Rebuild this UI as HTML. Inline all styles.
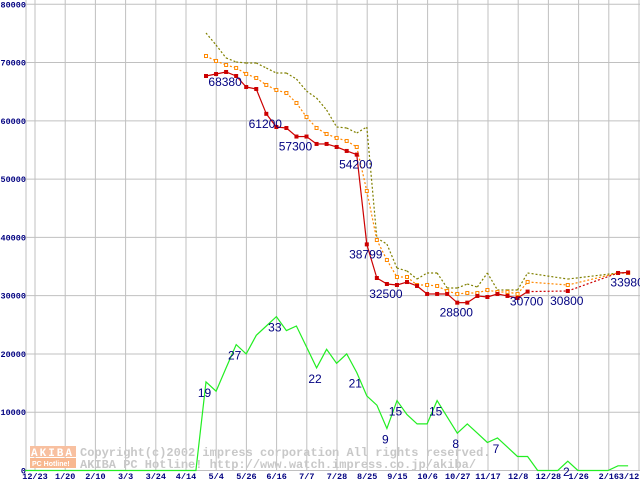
<!DOCTYPE html>
<html><head><meta charset="utf-8"><style>
html,body{margin:0;padding:0;background:#fff;}
svg{display:block;}
</style></head><body>
<svg id="chart" width="640" height="480" xmlns="http://www.w3.org/2000/svg" font-family="Liberation Sans, sans-serif">
<g id="grid"></g>
<g id="watermark">
  <rect x="30" y="446" width="46" height="11" fill="#f8c0a0"/>
  <rect x="30" y="458" width="46" height="10" fill="#f8b890"/>
  <text x="31" y="456" font-size="11" font-weight="bold" fill="#fff" font-family="Liberation Mono, monospace" letter-spacing="2">AKIBA</text>
  <text x="32" y="466" font-size="7" font-weight="bold" fill="#fff">PC Hotline!</text>
  <text x="80" y="456" font-size="12" font-weight="bold" fill="#c8c8c8" font-family="Liberation Mono, monospace">Copyright(c)2002 impress corporation All rights reserved.</text>
  <text x="80" y="468" font-size="12" font-weight="bold" fill="#c8c8c8" font-family="Liberation Mono, monospace">AKIBA PC Hotline!  http://www.watch.impress.co.jp/akiba/</text>
</g>
<g id="axes"></g>
<g id="series"></g>
<g id="labels"></g>
</svg>
<script>
const xTickLabels = ["12/23","1/20","2/10","3/3","3/24","4/14","5/4","5/26","6/16","7/7","7/28","8/25","9/15","10/6","10/27","11/17","12/8","12/28","1/26","2/16","3/12"];
const yTicks = [0,10000,20000,30000,40000,50000,60000,70000,80000];
const minPrice = [67690,68030,68380,67690,65800,65460,61200,58940,58770,57300,57300,56030,56030,55510,54830,54200,38799,33030,32000,31830,32340,31660,30290,30290,30290,28800,28800,29950,29770,30290,29950,29600,30700,null,null,null,30800,null,null,null,null,33890,33980];
const avgPrice = [71120,70270,69580,69070,68040,67350,66150,65290,64770,63060,60650,58770,57740,57060,56540,55510,47960,39550,36120,33200,33200,31830,31830,31660,30800,30290,30460,30460,30970,30630,30630,30290,32350,null,null,null,31830,null,null,null,null,33890,33890];
const maxPrice = [75070,73010,70780,70100,69920,69920,69060,68200,68200,67170,65110,63910,61860,58940,58770,57910,58940,39890,38850,34740,34230,32850,33890,33890,31310,31310,32000,31480,33890,30970,30970,30970,33890,null,null,null,32850,null,null,null,null,33890,33890];
const shopCount = [0,0,0,0,0,0,0,0,0,0,0,0,0,0,0,0,0,0,19,17,22,27,25,29,31,33,30,31,26.5,22,26,23,25,21,16,14,9,15,12,10,10,15,11.5,8,10,8,6,7,5,3,3,0,0,0,2,0,0,0,0,1,1];
const countOffset = 18;
const priceLabelIdx = [2,6,9,15,16,18,25,32,36,42];
const priceLabelText = ["68380","61200","57300","54200","38799","32500","28800","30700","30800","33980"];
const countLabelIdx = [0,3,7,11,15,18,19,23,25,29,36];
const countLabelText = ["19","27","33","22","21","9","15","15","8","7","2"];

const NS="http://www.w3.org/2000/svg";
function xPos(i){return 206+10.05*i;}
function yPos(v){return 470.5-v*0.005828;}
function countY(c){return yPos(c*800);}
function el(tag,attrs,parent){const e=document.createElementNS(NS,tag);for(const k in attrs)e.setAttribute(k,attrs[k]);parent.appendChild(e);return e;}
const grid=document.getElementById('grid'),axes=document.getElementById('axes'),series=document.getElementById('series'),labels=document.getElementById('labels');

xTickLabels.forEach((t,i)=>{
  const x=35+30.2*i;
  const l=el('line',{x1:x,y1:0,x2:x,y2:471,stroke:'#c0c0c0','stroke-width':1},grid);
  
  
  const tx=el('text',{x:Math.min(x,629),y:479,'font-size':8.5,'font-weight':'bold',fill:'#000080','text-anchor':'middle','font-family':'Liberation Mono, monospace'},axes);
  tx.textContent=t;
  
  
});
yTicks.forEach(v=>{
  const y=yPos(v);
  const l=el('line',{x1:26,y1:y,x2:640,y2:y,stroke:'#c0c0c0','stroke-width':1},grid);
  
  
  const tx=el('text',{x:26,y:y+3,'font-size':8.5,'font-weight':'bold',fill:'#000080','text-anchor':'end','font-family':'Liberation Mono, monospace'},axes);
  tx.textContent=String(v);
  
  
});
const ax=el('line',{x1:26,y1:0,x2:26,y2:471,stroke:'#c0c0c0','stroke-width':1},axes);



let pts=shopCount.map((c,k)=>xPos(k-countOffset).toFixed(1)+','+countY(c).toFixed(1)).join(' ');
const gl=el('polyline',{points:pts,fill:'none',stroke:'#22ee22','stroke-width':1.2},series);



function drawPriceSeries(data,color,dash,name){
  let prev=null;
  data.forEach((v,i)=>{
    if(v==null)return;
    if(prev!=null){
      const gap=i-prev>1;
      const s=el('line',{x1:xPos(prev),y1:yPos(data[prev]),x2:xPos(i),y2:yPos(v),stroke:color,'stroke-width':1.2},series);
      if(dash||gap)s.setAttribute('stroke-dasharray','2,2');
      
      
    }
    prev=i;
  });
}
drawPriceSeries(maxPrice,'#808000',true,'max-price');
drawPriceSeries(avgPrice,'#ff8800',true,'avg-price');
drawPriceSeries(minPrice,'#cc0000',false,'min-price');
avgPrice.forEach((v,i)=>{
  if(v==null)return;
  const m=el('rect',{x:xPos(i)-1.5,y:yPos(v)-1.5,width:3,height:3,fill:'#fff',stroke:'#ff8800','stroke-width':1},series);
  
  
});
minPrice.forEach((v,i)=>{
  if(v==null)return;
  const m=el('rect',{x:xPos(i)-2,y:yPos(v)-2,width:4,height:4,fill:'#cc0000'},series);
  
  
});
priceLabelIdx.forEach((idx,k)=>{
  const t=el('text',{x:xPos(idx)-1,y:yPos(minPrice[idx]??0)+14,'font-size':12,fill:'#000080','text-anchor':'middle'},labels);
  t.textContent=priceLabelText[k];
  
  
});
countLabelIdx.forEach((idx,k)=>{
  const c=shopCount[idx+countOffset];
  const t=el('text',{x:xPos(idx)-1.5,y:countY(c)+15,'font-size':12,fill:'#000080','text-anchor':'middle'},labels);
  t.textContent=countLabelText[k];
  
  
});
</script>
</body></html>
